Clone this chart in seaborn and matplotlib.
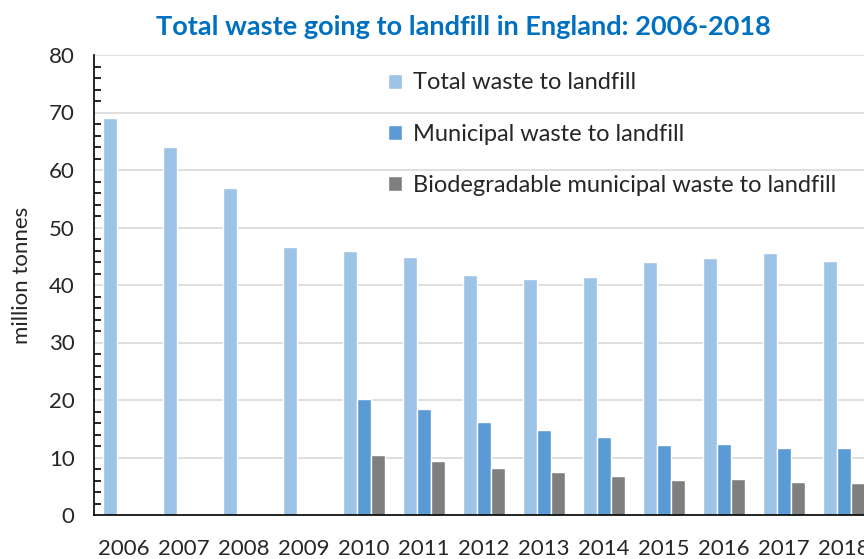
import numpy as np
import pandas as pd
import matplotlib
matplotlib.use("Agg")
import matplotlib.pyplot as plt
from matplotlib.ticker import MultipleLocator, FixedLocator
import seaborn as sns

# ── Data (million tonnes) ──
years = ["2006", "2007", "2008", "2009", "2010", "2011", "2012",
         "2013", "2014", "2015", "2016", "2017", "2018"]
total_waste = [69.0, 64.0, 56.9, 46.6, 45.9, 44.9, 41.7, 41.0, 41.4, 44.0, 44.7, 45.6, 44.2]
municipal_waste = [np.nan, np.nan, np.nan, np.nan, 20.2, 18.4, 16.1, 14.7, 13.6, 12.1, 12.3, 11.7, 11.6]
biodegradable_waste = [np.nan, np.nan, np.nan, np.nan, 10.4, 9.4, 8.2, 7.4, 6.8, 6.1, 6.2, 5.7, 5.6]

series_names = ["Total waste to landfill",
                "Municipal waste to landfill",
                "Biodegradable municipal waste to landfill"]
colors = ["#9DC3E6", "#5B9BD5", "#7F7F7F"]

df = pd.DataFrame({
    "year": years * 3,
    "series": np.repeat(series_names, len(years)),
    "value": total_waste + municipal_waste + biodegradable_waste,
})

# ── Plot ──
sns.set_style("white")
plt.rcParams['font.family'] = ['Lato', 'DejaVu Sans']

fig = plt.figure(figsize=(8.64, 5.59), dpi=100)
ax = fig.add_axes([94 / 864, 44 / 559, 780 / 864, 460 / 559])

sns.barplot(data=df, x="year", y="value", hue="series", order=years,
            hue_order=series_names, palette=colors, width=0.7,
            saturation=1, ax=ax)

ax.set_xlim(-0.5, 12.5)
ax.set_ylim(0, 80)
ax.yaxis.set_major_locator(MultipleLocator(10))
ax.yaxis.set_minor_locator(MultipleLocator(2))
ax.grid(axis="y", color="#D9D9D9", linewidth=1.2)
ax.set_axisbelow(True)

# category boundary ticks on x, labels at centres
ax.xaxis.set_minor_locator(FixedLocator(np.arange(-0.5, 13, 1)))
ax.tick_params(axis="x", which="major", length=0, pad=17, labelsize=16)
ax.tick_params(axis="x", which="minor", length=6, width=1.2, direction="out", color="black")
ax.tick_params(axis="y", which="major", length=12, width=1.2, direction="inout",
               labelsize=16, color="black", pad=8)
ax.tick_params(axis="y", which="minor", length=5, width=1.2, direction="in",
               left=True, color="black")

for side in ["top", "right"]:
    ax.spines[side].set_visible(False)
for side in ["left", "bottom"]:
    ax.spines[side].set_color("black")
    ax.spines[side].set_linewidth(1.2)

ax.set_xlabel("")
ax.set_ylabel("million tonnes", fontsize=16)
ax.yaxis.set_label_coords(-0.079, 0.52)

ax.legend(loc="upper left", bbox_to_anchor=(0.377, 0.962), frameon=False,
          fontsize=17, labelspacing=1.28, handlelength=0.6, handleheight=0.6,
          handletextpad=0.45, borderpad=0, borderaxespad=0)

fig.text(0.536, 0.951, "Total waste going to landfill in England: 2006-2018",
         ha="center", va="center", fontsize=19.5, fontweight="bold", color="#0070C0")

plt.savefig("out.png", dpi=100)
